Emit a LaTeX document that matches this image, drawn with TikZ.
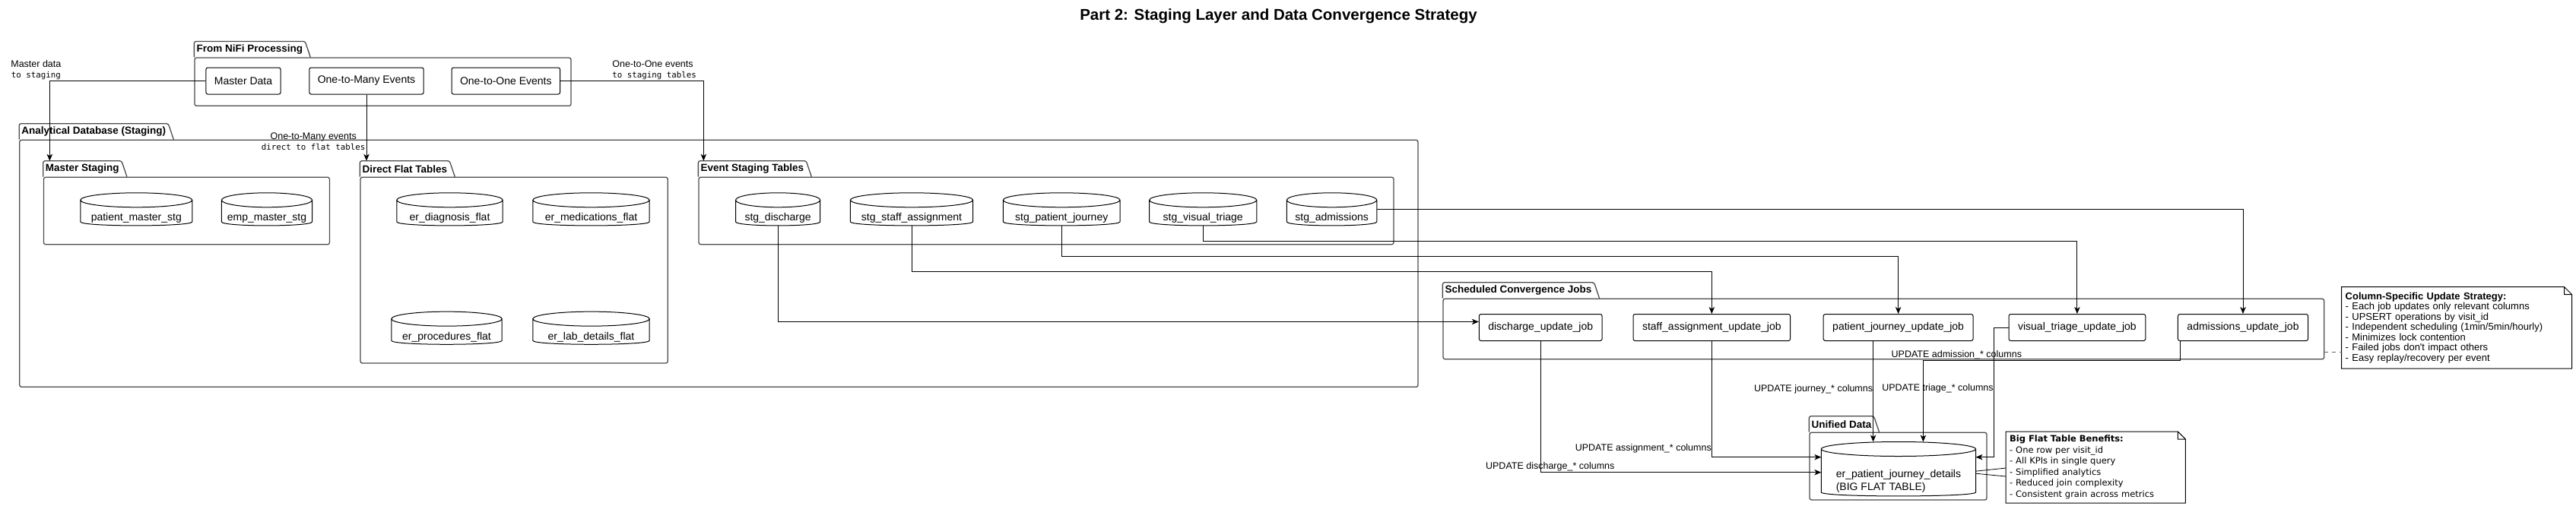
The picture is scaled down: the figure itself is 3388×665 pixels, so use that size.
\documentclass[tikz,border=0pt]{standalone}
\usepackage{fontspec}
\setmainfont{Liberation Sans}
\newfontfamily\labelmono{DejaVu Sans Mono}
\newfontfamily\notesans{DejaVu Sans}
\usetikzlibrary{arrows.meta,calc,fit}

\newcommand{\monoline}{\labelmono\fontsize{10.8}{13}\selectfont}

\tikzset{
  every node/.style={font=\fontsize{14}{16.8}\selectfont},
  srcbox/.style={draw, line width=1pt, rounded corners=2.5pt, minimum height=35pt, inner xsep=11pt},
  jobbox/.style={srcbox, inner xsep=12pt},
  dbtable/.style={minimum height=42.7pt, inner sep=0pt, text height=31pt, text depth=0pt},
  pkgbody/.style={draw=black!70, line width=1.3pt, rounded corners=2.5pt, inner sep=0pt},
  pkgtitle/.style={font=\bfseries\fontsize{13.5}{16}\selectfont, anchor=south west,
    minimum height=20.5pt, inner xsep=3pt, inner ysep=0pt},
  flow/.style={-{Stealth[length=9pt,width=7.5pt,inset=2.5pt]}, line width=1pt},
  lbl/.style={font=\fontsize{12.5}{14}\selectfont, inner sep=0pt},
  notebox/.style={align=left, inner xsep=5pt, inner ysep=7pt, font=\fontsize{13}{13.5}\selectfont},
  noteline/.style={draw=black!60, line width=1.2pt, dash pattern=on 5pt off 5pt},
}

% database cylinder round a named node
\newcommand{\dbdraw}[1]{%
  \draw[line width=1pt] let \p1=(#1.north west), \p2=(#1.south east) in
    ($(#1.north)+(0,9.5)$) ellipse [x radius={(\x2-\x1)/2}, y radius=9.5pt]
    (\x1,\y1-9.5pt) -- (\x1,\y2+5pt) .. controls (\x1,\y2-1.7pt) and (\x2,\y2-1.7pt) .. (\x2,\y2+5pt) -- (\x2,\y1-9.5pt);}
% folder tab on top of a package frame
\newcommand{\drawtab}[1]{%
  \draw[draw=black!70, line width=1.3pt, rounded corners=2.5pt]
    (#1.north west) -- (#1tab.north west) -- (#1tab.north east) -- ([xshift=7pt]#1tab.south east);}
% note with a folded corner
\newcommand{\notedraw}[1]{%
  \draw[line width=1pt] (#1.north west) -- ([xshift=-10pt]#1.north east) -- ([yshift=-10pt]#1.north east)
    -- (#1.south east) -- (#1.south west) -- cycle
    ([xshift=-10pt]#1.north east) |- ([yshift=-10pt]#1.north east);}

\begin{document}
\begin{tikzpicture}[x=1pt,y=-1pt]
  \useasboundingbox (0,0) rectangle (3388,665);
  \node[font=\bfseries\fontsize{20.5}{23}\selectfont] (title) at (1681.5,21.7)
    {Part 2: Staging Layer and Data Convergence Strategy};

  % First, the package frames
  \node[pkgbody, fit={(256,76) (751,139.3)}] (nifi) {};
  \node[pkgtitle] (nifitab) at (nifi.north west) {From NiFi Processing};
  \node[pkgbody, fit={(25.8,184.3) (1865,509.3)}] (adb) {};
  \node[pkgtitle] (adbtab) at (adb.north west) {Analytical Database (Staging)};
  \node[pkgbody, fit={(57.4,233.3) (433.4,321.7)}] (mstg) {};
  \node[pkgtitle] (mstgtab) at (mstg.north west) {Master Staging};
  \node[pkgbody, fit={(474,233.3) (878.2,478)}] (dflat) {};
  \node[pkgtitle] (dflattab) at (dflat.north west) {Direct Flat Tables};
  \node[pkgbody, fit={(919,233.3) (1833,321.7)}] (evstg) {};
  \node[pkgtitle] (evstgtab) at (evstg.north west) {Event Staging Tables};
  \node[pkgbody, fit={(1898,393.3) (3056.7,472.7)}] (jobs) {};
  \node[pkgtitle] (jobstab) at (jobs.north west) {Scheduled Convergence Jobs};
  \node[pkgbody, fit={(2380,569.3) (2613,658)}] (unified) {};
  \node[pkgtitle] (unifiedtab) at (unified.north west) {Unified Data};
  \foreach \f in {nifi,adb,mstg,dflat,evstg,jobs,unified} \drawtab{\f};

  % Second, sources and tables
  \node[srcbox] (md)  at (320,106.5)   {Master Data};
  \node[srcbox] (otm) at (482,106.5)   {One-to-Many Events};
  \node[srcbox] (oto) at (665.3,106.5) {One-to-One Events};

  \node[dbtable, minimum width=146.6pt] (pms)  at (179.3,275.35)  {patient\_master\_stg};
  \node[dbtable, minimum width=118.8pt] (ems)  at (351,275.35)    {emp\_master\_stg};
  \node[dbtable, minimum width=139pt]   (edf)  at (591.5,275.35)  {er\_diagnosis\_flat};
  \node[dbtable, minimum width=153pt]   (emf)  at (777.5,275.35)  {er\_medications\_flat};
  \node[dbtable, minimum width=145pt]   (epf)  at (587.5,431.7)   {er\_procedures\_flat};
  \node[dbtable, minimum width=153pt]   (elf)  at (777.5,431.7)   {er\_lab\_details\_flat};
  \node[dbtable, minimum width=110.8pt] (sdis) at (1023.1,275.35) {stg\_discharge};
  \node[dbtable, minimum width=160.8pt] (ssa)  at (1199,275.35)   {stg\_staff\_assignment};
  \node[dbtable, minimum width=153.3pt] (spj)  at (1396.2,275.35) {stg\_patient\_journey};
  \node[dbtable, minimum width=140.7pt] (svt)  at (1582.2,275.35) {stg\_visual\_triage};
  \node[dbtable, minimum width=118pt]   (sad)  at (1751.6,275.35) {stg\_admissions};
  \node[dbtable, minimum width=202.8pt, minimum height=71pt, text height=55.6pt] (bft) at (2496.9,617.2)
    {\begin{tabular}[b]{@{}l@{}}er\_patient\_journey\_details\\(BIG FLAT TABLE)\end{tabular}};
  \foreach \t in {pms,ems,edf,emf,epf,elf,sdis,ssa,spj,svt,sad,bft} \dbdraw{\t};

  \node[jobbox] (dj) at (2026.2,431) {discharge\_update\_job};
  \node[jobbox] (sj) at (2251.3,431) {staff\_assignment\_update\_job};
  \node[jobbox] (pj) at (2496.6,431) {patient\_journey\_update\_job};
  \node[jobbox] (vj) at (2731.9,431) {visual\_triage\_update\_job};
  \node[jobbox] (aj) at (2950,431)   {admissions\_update\_job};

  % Third, the notes
  \node[notebox, text width=292.8pt, anchor=north west] (csnote) at (3079.5,377.7)
    {\textbf{Column-Specific Update Strategy:}\\- Each job updates only relevant columns\\- UPSERT operations by visit\_id\\- Independent scheduling (1min/5min/hourly)\\- Minimizes lock contention\\- Failed jobs don\textquotesingle t impact others\\- Easy replay/recovery per event};
  \node[notebox, font=\notesans\fontsize{11.5}{14.5}\selectfont, inner ysep=5pt, text width=226pt, anchor=north west] (bfnote) at (2638,568)
    {\textbf{Big Flat Table Benefits:}\\- One row per visit\_id\\- All KPIs in single query\\- Simplified analytics\\- Reduced join complexity\\- Consistent grain across metrics};
  \foreach \n in {csnote,bfnote} \notedraw{\n};

  % Loading into staging
  \draw[flow] (md.west) -| node[lbl, align=center, anchor=south, xshift=-18pt, yshift=1.5pt]
    {Master data\\{\monoline to staging}} ([xshift=8.6pt]mstgtab.north west);
  \draw[flow] (otm.south) -- node[lbl, align=center, anchor=east, pos=0.71, xshift=-1pt]
    {One-to-Many events\\{\monoline direct to flat tables}} (otm.south |- dflattab.north);
  \draw[flow] (oto.east) -| node[lbl, align=left, anchor=south west, pos=0.18, yshift=1.5pt]
    {One-to-One events\\{\monoline to staging tables}} ([xshift=7pt]evstgtab.north west);

  % Staging tables feed the jobs
  \draw[flow] (sdis.south) |- ([yshift=7.5pt]dj.west);
  \draw[flow] (ssa.south) -- ++(0,61) -| (sj.north);
  \draw[flow] (spj.south) -- ++(0,40.6) -| (pj.north);
  \draw[flow] (svt.south) -- ++(0,20.6) -| (vj.north);
  \draw[flow] (sad.east) -| (aj.north);

  % Jobs update the big flat table
  \draw[flow] (dj.south) |- node[lbl, anchor=south, pos=0.517, yshift=1pt]
    {UPDATE discharge\_* columns} ([yshift=-4.5pt]bft.west);
  \draw[flow] (sj.south) |- node[lbl, anchor=east, pos=0.462]
    {UPDATE assignment\_* columns} ([yshift=15.5pt]bft.west);
  \draw[flow] ([xshift=-33pt]pj.south) -- node[lbl, anchor=east, pos=0.475]
    {UPDATE journey\_* columns} ([xshift=-33pt]pj.south |- bft.north);
  \draw[flow] (vj.west) -- ++(-19.4,0) |- node[lbl, anchor=east, pos=0.235]
    {UPDATE triage\_* columns} ([yshift=15.5pt]bft.east);
  \draw[flow] ([xshift=3.3pt]aj.south west) -- ++(0,25.3) -| node[lbl, anchor=south, pos=0.435, yshift=1pt]
    {UPDATE admission\_* columns} ([xshift=32.5pt]bft.north);

  % Note connectors
  \draw[noteline] ([yshift=-30.3pt]jobs.east) -- ([yshift=-30.3pt]jobs.east -| csnote.west);
  \draw[line width=0.8pt] ([yshift=-3pt]bft.east) -- ([yshift=-1pt]bfnote.west)
    ([yshift=-6pt]bft.east) -- ([yshift=-12pt]bfnote.west);
\end{tikzpicture}
\end{document}
